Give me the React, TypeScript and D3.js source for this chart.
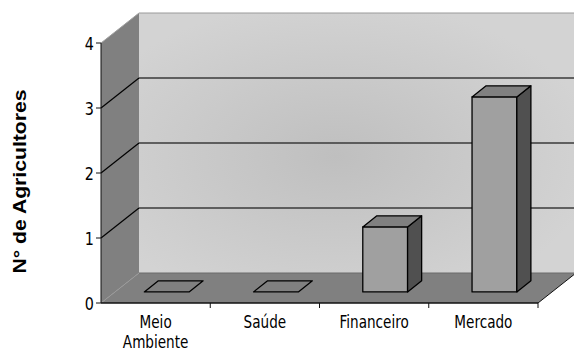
import React from "react";
import { scaleBand, scaleLinear } from "d3";

const categories = ["Meio Ambiente", "Saúde", "Financeiro", "Mercado"];
const categoryLines = [["Meio", "Ambiente"], ["Saúde"], ["Financeiro"], ["Mercado"]];
const values = [0, 0, 1, 3];
const yTicks = [0, 1, 2, 3, 4];
const yLabel = "N° de Agricultores";

const W = 574;
const H = 351;
const left = 101;
const right = 538;
const bottom = 303;
const top = 43;
// depth of the 3d box
const DX = 38;
const DY = -30;
// bar depth, as fraction of the box depth
const t0 = 0.37;
const t1 = 0.74;

export default function App() {
  const x = scaleBand<string>().domain(categories).range([left, right]);
  const y = scaleLinear().domain([0, 4]).range([bottom, top]);
  const bw = x.bandwidth() * 0.41;
  const ddx = DX * (t1 - t0);
  const ddy = DY * (t1 - t0);

  const pts = (p: number[][]) => p.map((d) => d.join(",")).join(" ");

  return (
    <svg
      width={W}
      height={H}
      style={{ position: "absolute", left: 0, top: 0, display: "block", background: "#fff" }}
    >
      <defs>
        <radialGradient id="wall" cx="0.45" cy="0.55" r="0.6">
          <stop offset="0" stopColor="#bfbfbf" />
          <stop offset="1" stopColor="#d3d3d3" />
        </radialGradient>
      </defs>

      {/* back wall */}
      <rect x={left + DX} y={y(4) + DY} width={right - left} height={y(0) - y(4)} fill="url(#wall)" />
      <line x1={left + DX} x2={right + DX} y1={y(4) + DY} y2={y(4) + DY} stroke="#9a9a9a" />
      {/* side wall */}
      <polygon
        points={pts([[left, y(0)], [left, y(4)], [left + DX, y(4) + DY], [left + DX, y(0) + DY]])}
        fill="#808080"
      />
      <line x1={left} y1={y(4)} x2={left + DX} y2={y(4) + DY} stroke="#a0a0a0" />
      {/* floor */}
      <polygon
        points={pts([[left, y(0)], [right, y(0)], [right + DX, y(0) + DY], [left + DX, y(0) + DY]])}
        fill="#808080"
      />
      <line x1={left + DX} x2={right + DX} y1={y(0) + DY} y2={y(0) + DY} stroke="#6a6a6a" />
      <line x1={right} y1={y(0)} x2={right + DX} y2={y(0) + DY} stroke="#111" />
      <line x1={left} y1={y(0)} x2={left + DX} y2={y(0) + DY} stroke="#999" strokeWidth={0.8} />

      {/* gridlines */}
      {yTicks.filter((v) => v > 0 && v < 4).map((v) => (
        <g key={v}>
          <line x1={left} y1={y(v)} x2={left + DX} y2={y(v) + DY} stroke="#000" strokeWidth={1.2} />
          <line x1={left + DX} x2={right + DX} y1={y(v) + DY} y2={y(v) + DY} stroke="#3a3a3a" strokeWidth={1.6} />
        </g>
      ))}

      {/* bars */}
      {categories.map((c, i) => {
        const cx = (x(c) as number) + x.bandwidth() / 2 + DX * t0 - 3;
        const xl = cx - bw / 2;
        const xr = cx + bw / 2;
        const yb = y(0) + DY * t0;
        const yt = y(values[i]) + DY * t0;
        return (
          <g key={c} stroke="#000" strokeWidth={1.3} strokeLinejoin="round">
            {values[i] > 0 && (
              <rect x={xl} y={yt} width={bw} height={yb - yt} fill="#a0a0a0" />
            )}
            {values[i] > 0 && (
              <polygon
                points={pts([[xr, yt], [xr + ddx, yt + ddy], [xr + ddx, yb + ddy], [xr, yb]])}
                fill="#505050"
              />
            )}
            <polygon
              points={pts([[xl, yt], [xr, yt], [xr + ddx, yt + ddy], [xl + ddx, yt + ddy]])}
              fill="#808080"
            />
          </g>
        );
      })}

      {/* axes */}
      <line x1={left} x2={left} y1={y(0)} y2={y(4)} stroke="#111" />
      <line x1={left} x2={right} y1={y(0)} y2={y(0)} stroke="#111" strokeWidth={1.5} />
      {yTicks.map((v) => (
        <g key={v}>
          <line x1={left - 5} x2={left} y1={y(v)} y2={y(v)} stroke="#111" />
          <text
            transform={`translate(${left - 7},${y(v) + 6.5}) scale(0.82,1)`}
            textAnchor="end"
            fontFamily="DejaVu Sans, sans-serif"
            fontSize={17.5}
            fill="#000"
          >
            {v}
          </text>
        </g>
      ))}
      {categories.map((c, i) => {
        const cx = (x(c) as number) + x.bandwidth() / 2;
        return (
          <g key={c}>
            {i > 0 && (
              <line x1={x(c)} x2={x(c)} y1={y(0)} y2={y(0) + 5} stroke="#111" />
            )}
            {categoryLines[i].map((ln, j) => (
              <text
                key={j}
                transform={`translate(${cx},${328 + j * 20}) scale(0.8,1)`}
                textAnchor="middle"
                fontFamily="DejaVu Sans, sans-serif"
                fontSize={17}
                fill="#000"
              >
                {ln}
              </text>
            ))}
          </g>
        );
      })}
      <line x1={right} x2={right} y1={y(0)} y2={y(0) + 5} stroke="#111" />

      <text
        transform="translate(26,181.5) rotate(-90)"
        textAnchor="middle"
        fontFamily="Liberation Sans, Arial, sans-serif"
        fontWeight="bold"
        fontSize={17.5}
        textLength={184}
        lengthAdjust="spacingAndGlyphs"
        fill="#000"
      >
        {yLabel}
      </text>
    </svg>
  );
}
